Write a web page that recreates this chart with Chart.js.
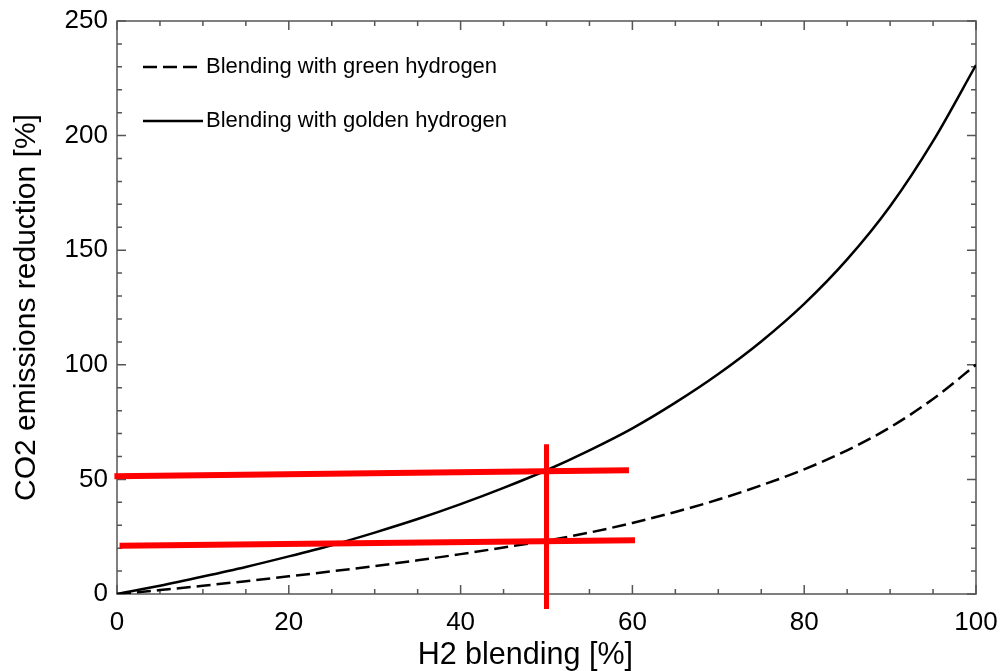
<!DOCTYPE html>
<html>
<head>
<meta charset="utf-8">
<script src="https://cdn.jsdelivr.net/npm/chart.js@4"></script>
<style>
  html, body { margin: 0; padding: 0; background: #fff; }
  #wrap { width: 1000px; height: 671px; }
</style>
</head>
<body>
<div id="wrap"><canvas id="chart" width="1000" height="671"></canvas></div>
<script>
// H2 blending [%] sample points
const blendingPct = [0, 5, 10, 15, 20, 25, 30, 35, 40, 45, 50, 55, 60, 65, 70, 75, 80, 85, 90, 95, 100];
// CO2 emissions reduction [%]
const greenReduction  = [0, 1.7, 3.6, 5.6, 7.7, 9.9, 12.2, 14.7, 17.4, 20.3, 23.3, 26.8, 31.0, 35.8, 41.2, 47.4, 54.4, 62.7, 72.7, 85.1, 100];
const goldenReduction = [0, 3.6, 7.6, 11.8, 16.4, 21.3, 26.8, 32.7, 39.2, 46.3, 54, 62.7, 72.3, 83.5, 96, 110.2, 126.6, 146, 169.2, 197.6, 230.8];

// red guide lines drawn over the plot
const upperGuideX = [-0.3, 59.6];
const upperGuideY = [51.4, 54];
const lowerGuideX = [0.3, 60.3];
const lowerGuideY = [21, 23.5];
const vertGuideX  = [50.0, 50.0];
const vertGuideY  = [-6.5, 65.3];

const FONT = "'Liberation Sans', Arial, sans-serif";

function pts(xs, ys) {
    return xs.map((x, i) => ({ x: x, y: ys[i] }));
}

// frame with inward ticks on all four sides
const framePlugin = {
    id: 'frame',
    beforeDatasetsDraw(chart) {
        const { ctx, chartArea: a, scales } = chart;
        ctx.save();
        ctx.strokeStyle = '#555';
        ctx.lineWidth = 1.5;
        ctx.strokeRect(a.left, a.top, a.right - a.left, a.bottom - a.top);
        ctx.beginPath();
        scales.x.ticks.forEach(t => {
            const px = scales.x.getPixelForValue(t.value);
            const len = t.value % 20 === 0 ? 9 : 5;
            ctx.moveTo(px, a.bottom); ctx.lineTo(px, a.bottom - len);
            ctx.moveTo(px, a.top); ctx.lineTo(px, a.top + len);
        });
        scales.y.ticks.forEach(t => {
            const py = scales.y.getPixelForValue(t.value);
            const len = t.value % 50 === 0 ? 9 : 5;
            ctx.moveTo(a.left, py); ctx.lineTo(a.left + len, py);
            ctx.moveTo(a.right, py); ctx.lineTo(a.right - len, py);
        });
        ctx.stroke();
        ctx.restore();
    }
};

// legend inside the plot, top left
const innerLegend = {
    id: 'innerLegend',
    afterDraw(chart) {
        const { ctx, chartArea: a } = chart;
        ctx.save();
        ctx.font = '22px ' + FONT;
        ctx.fillStyle = '#000';
        ctx.textBaseline = 'middle';
        let row = 0;
        chart.data.datasets.forEach(ds => {
            if (!ds.label) return;
            const y = a.top + 46 + row * 54;
            ctx.strokeStyle = ds.borderColor;
            ctx.lineWidth = ds.borderWidth;
            ctx.setLineDash(ds.borderDash || []);
            ctx.beginPath();
            ctx.moveTo(a.left + 26, y);
            ctx.lineTo(a.left + 86, y);
            ctx.stroke();
            ctx.setLineDash([]);
            ctx.fillText(ds.label, a.left + 89, y);
            row++;
        });
        ctx.restore();
    }
};

new Chart(document.getElementById('chart'), {
    type: 'line',
    data: {
        datasets: [
            {
                label: 'Blending with green hydrogen',
                data: pts(blendingPct, greenReduction),
                borderColor: '#000', borderWidth: 2.5, borderDash: [14, 6],
                pointRadius: 0, cubicInterpolationMode: 'monotone', order: 1
            },
            {
                label: 'Blending with golden hydrogen',
                data: pts(blendingPct, goldenReduction),
                borderColor: '#000', borderWidth: 2.5,
                pointRadius: 0, cubicInterpolationMode: 'monotone', order: 1
            },
            { data: pts(upperGuideX, upperGuideY), borderColor: '#ff0000', borderWidth: 6, pointRadius: 0, clip: false, order: 0 },
            { data: pts(lowerGuideX, lowerGuideY), borderColor: '#ff0000', borderWidth: 6, pointRadius: 0, clip: false, order: 0 },
            { data: pts(vertGuideX, vertGuideY), borderColor: '#ff0000', borderWidth: 5, pointRadius: 0, clip: false, order: 0 }
        ]
    },
    options: {
        responsive: false,
        animation: false,
        layout: { padding: { top: 21, right: 24, left: 0, bottom: 0 } },
        plugins: {
            legend: { display: false },
            tooltip: { enabled: false }
        },
        scales: {
            x: {
                type: 'linear', min: 0, max: 100,
                grid: { display: false, drawTicks: false }, border: { display: false },
                ticks: {
                    stepSize: 5, autoSkip: false, maxRotation: 0, padding: 13,
                    color: '#000', font: { family: FONT, size: 26 },
                    callback: v => (v % 20 === 0 ? v : '')
                },
                title: {
                    display: true, text: 'H2 blending [%]\u00a0\u00a0\u00a0\u00a0\u00a0',
                    color: '#000', font: { family: FONT, size: 30.5, lineHeight: 1 },
                    padding: { top: 0, bottom: 0 }
                },
                // fixed height; let the layout padding decide the right margin
                afterFit: s => { s.height = 77; s.paddingLeft = 0; s.paddingRight = 0; }
            },
            y: {
                type: 'linear', min: 0, max: 250,
                grid: { display: false, drawTicks: false }, border: { display: false },
                ticks: {
                    stepSize: 10, autoSkip: false, padding: 9,
                    color: '#000', font: { family: FONT, size: 26 },
                    callback: v => (v % 50 === 0 ? v : '')
                },
                title: {
                    display: true, text: 'CO2 emissions reduction [%]',
                    color: '#000', font: { family: FONT, size: 30, lineHeight: 1 },
                    padding: { top: 12, bottom: 0 }
                },
                afterFit: s => { s.width = 117; s.paddingTop = 0; s.paddingBottom = 0; }
            }
        }
    },
    plugins: [framePlugin, innerLegend]
});
</script>
</body>
</html>
